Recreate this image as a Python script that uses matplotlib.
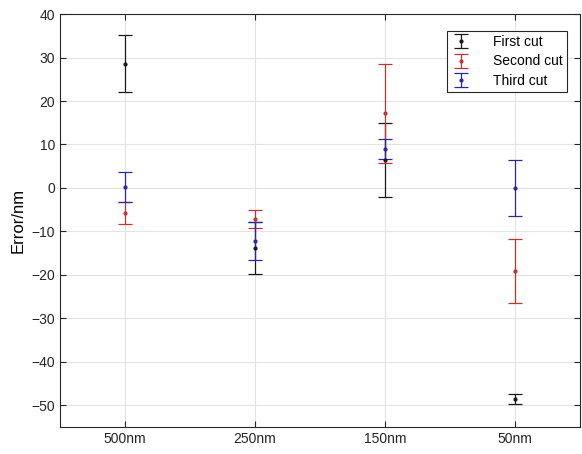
import matplotlib
matplotlib.use("Agg")
import matplotlib.pyplot as plt

# sample sizes on the x axis
labels = ["500nm", "250nm", "150nm", "50nm"]
xpos = [1, 2, 3, 4]

# errors (nm) and their half-widths
first_mean = [28.6, -13.8, 6.4, -48.6]
first_err = [6.5, 5.9, 8.5, 1.1]
second_mean = [-5.7, -7.2, 17.2, -19.1]
second_err = [2.5, 2.1, 11.4, 7.4]
third_mean = [0.2, -12.2, 9.0, 0.0]
third_err = [3.4, 4.3, 2.3, 6.45]

plt.rcParams['font.family'] = ['Liberation Sans', 'DejaVu Sans']

fig = plt.figure(figsize=(5.82, 4.54), dpi=100)
ax = fig.add_axes([0.103, 0.0595, 0.894, 0.9095])

kw = dict(fmt='.', markersize=4, capsize=5, elinewidth=0.9, capthick=0.9)
ax.errorbar(xpos, first_mean, yerr=first_err, color='#1a1a1a', label='First cut', **kw)
ax.errorbar(xpos, second_mean, yerr=second_err, color='#c8322d', label='Second cut', **kw)
ax.errorbar(xpos, third_mean, yerr=third_err, color='#2a2aa0', label='Third cut', **kw)

ax.set_xlim(0.5, 4.5)
ax.set_ylim(-55, 40)
ax.set_xticks(xpos)
ax.set_xticklabels(labels)
ax.set_yticks(range(-50, 41, 10))
ax.set_ylabel("Error/nm", fontsize=12)
ax.grid(True, color='#e3e3e3', linewidth=0.8)
ax.set_axisbelow(True)
ax.tick_params(direction='in', top=True, right=True, labelsize=10, length=4,
               colors='#262626')
for s in ax.spines.values():
    s.set_color('#262626')
    s.set_linewidth(0.8)

# legend box sits a little inside the top right corner
leg = ax.legend(loc='upper right', bbox_to_anchor=(0.975, 0.959), fontsize=10,
                fancybox=False, framealpha=1, edgecolor='#262626',
                borderaxespad=0, borderpad=0.3, labelspacing=0.38,
                handlelength=1.3, handletextpad=1.7)
leg.get_frame().set_linewidth(0.8)

fig.savefig("out.png", dpi=100)
